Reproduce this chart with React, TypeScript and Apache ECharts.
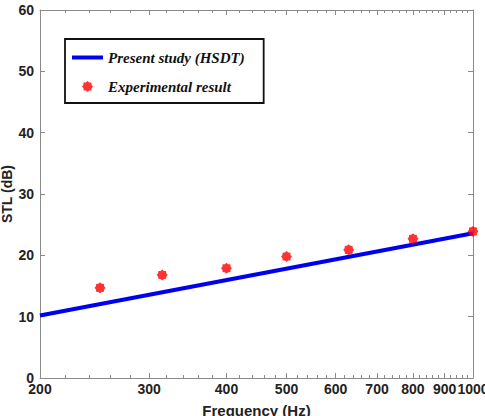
import { useEffect, useRef } from "react";
import * as echarts from "echarts";

// Measured transmission loss vs. frequency and the HSDT prediction
const expFreq = [250, 315, 400, 500, 630, 800, 1000];
const expSTL = [14.7, 16.8, 17.9, 19.8, 20.9, 22.7, 23.9];
const hsdtFreq = [200, 1000];
const hsdtSTL = [10.2, 23.6];

// Axis ticks
const xMajorTicks = [200, 300, 400, 500, 600, 700, 800, 900, 1000];
const xMinorTicks = [
  220, 240, 260, 280, 320, 340, 360, 380, 420, 440, 460, 480, 520, 540, 560,
  580, 620, 640, 660, 680, 720, 740, 760, 780, 820, 840, 860, 880, 920, 940,
  960, 980,
];

const FRAME = "#8a8a8a";
const SANS = "Liberation Sans";
const SERIF = "Liberation Serif";

// eight-spike star marker for the measured points
const STAR =
  "path://M20 10L17.39 13.06L17.07 17.07L13.06 17.39L10 20L6.94 17.39L2.93 17.07L2.61 13.06L0 10L2.61 6.94L2.93 2.93L6.94 2.61L10 0L13.06 2.61L17.07 2.93L17.39 6.94Z";

export default function App() {
  const ref = useRef<HTMLDivElement>(null);

  useEffect(() => {
    if (!ref.current) return;
    const chart = echarts.init(ref.current, null, { renderer: "svg" });

    const xCommon = {
      type: "log" as const,
      logBase: 10,
      min: 200,
      max: 1000,
      splitLine: { show: false },
      minorTick: { show: false },
      minorSplitLine: { show: false },
    };

    const makeX = (
      position: "top" | "bottom",
      ticks: number[],
      len: number,
      withLabels: boolean,
      showLine: boolean
    ) => ({
      ...xCommon,
      position,
      axisLine: { show: showLine, onZero: false, lineStyle: { color: FRAME, width: 1 } },
      axisTick: {
        show: true,
        inside: true,
        length: len,
        customValues: ticks,
        lineStyle: { color: FRAME, width: 1 },
      },
      axisLabel: withLabels
        ? {
            show: true,
            customValues: xMajorTicks,
            formatter: (v: number) => String(Math.round(v)),
            color: "#222",
            fontFamily: SANS,
            fontWeight: "bold",
            fontSize: 14,
            margin: 4,
            hideOverlap: false,
          }
        : { show: false },
      name: withLabels ? "Frequency (Hz)" : "",
      nameLocation: "middle" as const,
      nameGap: 25,
      nameMoveOverlap: false,
      nameTextStyle: { fontFamily: SANS, fontWeight: "bold", fontSize: 15, color: "#222" },
    });

    const makeY = (position: "left" | "right", withLabels: boolean) => ({
      type: "value" as const,
      position,
      min: 0,
      max: 60,
      interval: 10,
      splitLine: { show: false },
      axisLine: { show: true, onZero: false, lineStyle: { color: FRAME, width: 1 } },
      axisTick: { show: true, inside: true, length: 5, lineStyle: { color: FRAME } },
      axisLabel: withLabels
        ? {
            show: true,
            color: "#222",
            fontFamily: SANS,
            fontWeight: "bold",
            fontSize: 14,
            margin: 6,
          }
        : { show: false },
      name: withLabels ? "STL (dB)" : "",
      nameLocation: "middle" as const,
      nameGap: 26,
      nameMoveOverlap: false,
      nameTextStyle: { fontFamily: SANS, fontWeight: "bold", fontSize: 14, color: "#222" },
    });

    chart.setOption({
      animation: false,
      backgroundColor: "#ffffff",
      grid: {
        left: 40,
        right: 12,
        top: 10,
        bottom: 38,
        containLabel: false,
        outerBoundsMode: "none",
      },
      xAxis: [
        makeX("bottom", xMajorTicks, 5, true, true),
        makeX("bottom", xMinorTicks, 3, false, false),
        makeX("top", xMajorTicks, 5, false, true),
        makeX("top", xMinorTicks, 3, false, false),
      ],
      yAxis: [makeY("left", true), makeY("right", false)],
      legend: {
        left: 65,
        top: 39,
        orient: "vertical",
        itemWidth: 31,
        itemHeight: 11,
        itemGap: 14,
        padding: [11, 19, 9, 7],
        borderColor: "#111",
        borderWidth: 1.8,
        backgroundColor: "#fff",
        symbolKeepAspect: true,
        textStyle: {
          fontFamily: SERIF,
          fontStyle: "italic",
          fontWeight: "bold",
          fontSize: 15,
          lineHeight: 14,
          color: "#111",
        },
        data: [
          { name: "Present study (HSDT)", icon: "path://M0 0H31V4H0Z" },
          { name: "Experimental result", icon: STAR },
        ],
      },
      series: [
        {
          name: "Present study (HSDT)",
          type: "line",
          data: hsdtFreq.map((f, i) => [f, hsdtSTL[i]]),
          symbol: "none",
          lineStyle: { color: "#0000f0", width: 4 },
          itemStyle: { color: "#0000f0" },
          z: 2,
        },
        {
          name: "Experimental result",
          type: "scatter",
          data: expFreq.map((f, i) => [f, expSTL[i]]),
          symbol: STAR,
          symbolSize: 11,
          itemStyle: { color: "#ff0000" },
          z: 3,
        },
      ],
    });

    return () => chart.dispose();
  }, []);

  return (
    <div
      ref={ref}
      style={{ position: "absolute", left: 0, top: 0, width: 485, height: 416 }}
    />
  );
}
